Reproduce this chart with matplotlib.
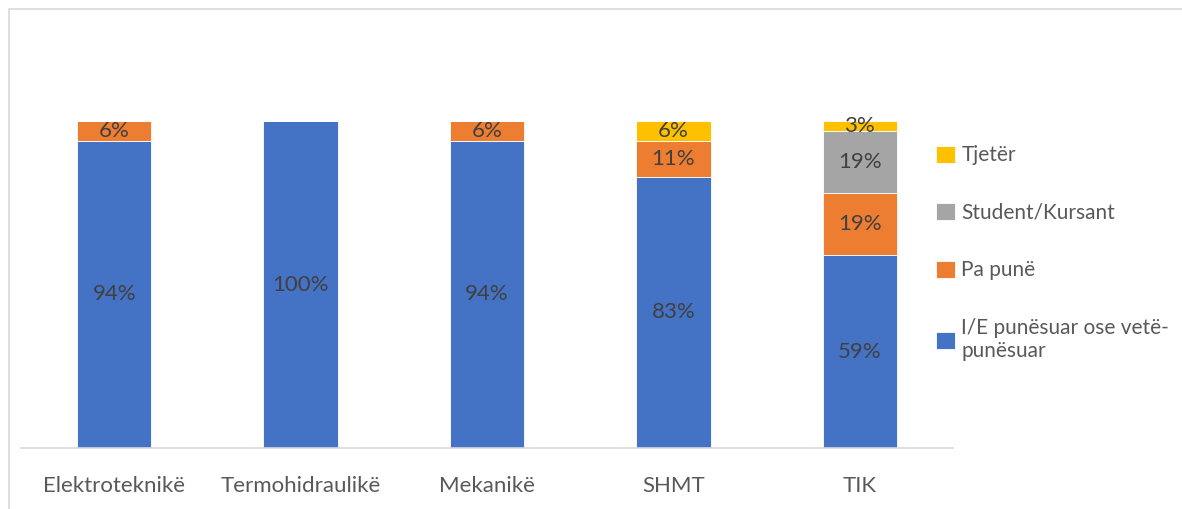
import matplotlib
matplotlib.use("Agg")
import matplotlib.pyplot as plt
from matplotlib.patches import Rectangle
import numpy as np

categories = ["Elektroteknikë", "Termohidraulikë", "Mekanikë", "SHMT", "TIK"]
employed = [94, 100, 94, 83, 59]
unemployed = [6, 0, 6, 11, 19]
student = [0, 0, 0, 0, 19]
other = [0, 0, 0, 6, 3]

series_names = ["I/E punësuar ose vetë-\npunësuar", "Pa punë", "Student/Kursant", "Tjetër"]
colors = ["#4472C4", "#ED7D31", "#A5A5A5", "#FFC000"]

plt.rcParams['font.family'] = ['Lato', 'DejaVu Sans']

W, H = 1182, 509
fig = plt.figure(figsize=(W/100, H/100), dpi=100)

# outer frame
fig.patches.append(Rectangle((9/W, -0.1), 1.2, (H-9)/H + 0.1, transform=fig.transFigure,
                             fill=False, edgecolor="#D9D9D9", linewidth=1.2))

ax = fig.add_axes([21/W, 1-448/H, (953-21)/W, (448-56)/H])
x = np.arange(len(categories))
bw = 0.4
data = [employed, unemployed, student, other]
bottom = np.zeros(len(categories))
for vals, name, c in zip(data, series_names, colors):
    vals = np.array(vals, dtype=float)
    ax.bar(x, vals, bw, bottom=bottom, color=c, label=name, edgecolor="white", linewidth=0.6)
    for xi, v, bt in zip(x, vals, bottom):
        if v > 0:
            ax.text(xi, bt + v/2, f"{int(v)}%", ha="center", va="center",
                    fontsize=16, color="#404040")
    bottom += vals

ax.set_xlim(-0.5, len(categories) - 0.5)
ax.set_ylim(0, 120)
ax.set_yticks([])
for s in ["top", "right", "left"]:
    ax.spines[s].set_visible(False)
ax.spines["bottom"].set_color("#D9D9D9")
ax.spines["bottom"].set_linewidth(1.2)
ax.set_xticks(x)
ax.set_xticklabels(categories, fontsize=16, color="#595959")
ax.tick_params(axis="x", length=0, pad=20)

handles, labels = ax.get_legend_handles_labels()
leg = fig.legend(handles[::-1], labels[::-1], loc="upper left",
                 bbox_to_anchor=(928/W, 1-137/H), frameon=False, fontsize=15,
                 labelcolor="#595959", handlelength=0.9, handleheight=0.9,
                 handletextpad=0.3, labelspacing=1.8, borderaxespad=0)

fig.savefig("out.png", dpi=100)
